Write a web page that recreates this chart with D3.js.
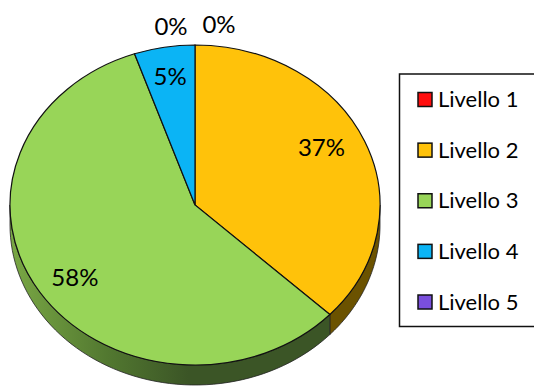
<!DOCTYPE html>
<html>
<head>
<meta charset="utf-8">
<script src="https://cdn.jsdelivr.net/npm/d3@7"></script>
<style>
html, body { margin: 0; padding: 0; background: #fff; }
svg { display: block; }
text { font-family: Lato, "Open Sans", sans-serif; fill: #000; }
</style>
</head>
<body>
<div id="viz"></div>
<script>
var categories = ['Livello 1', 'Livello 2', 'Livello 3', 'Livello 4', 'Livello 5'];
var values = [0, 37, 57.7, 5.3, 0];
var colors = ['#ff0d0d', '#ffc20a', '#98d558', '#0bb4f5', '#7a4fdc'];
var sideColors = ['#800000', '#6b5200', 'url(#greenSide)', '#0a5a7a', '#3d2870'];

var width = 534, height = 387;
var cx = 195, cy = 205, rx = 185, ry = 160, depth = 20;

var svg = d3.select('#viz').append('svg')
    .attr('width', width).attr('height', height);

var grad = svg.append('defs').append('linearGradient')
    .attr('id', 'greenSide')
    .attr('gradientUnits', 'userSpaceOnUse')
    .attr('x1', cx - rx).attr('x2', cx + rx * 0.75)
    .attr('y1', 0).attr('y2', 0);
grad.append('stop').attr('offset', 0).attr('stop-color', '#7aa845');
grad.append('stop').attr('offset', 0.3).attr('stop-color', '#527830');
grad.append('stop').attr('offset', 0.55).attr('stop-color', '#3b5526');
grad.append('stop').attr('offset', 1).attr('stop-color', '#3b5526');

var pie = d3.pie().sort(null)(values);

function px(a) { return cx + rx * Math.sin(a); }
function py(a) { return cy - ry * Math.cos(a); }

// side wall, only the part of a slice on the front half of the ellipse
var wall = d3.line();
var walls = svg.append('g');
pie.forEach(function(d, i) {
    var a0 = Math.max(d.startAngle, Math.PI / 2);
    var a1 = Math.min(d.endAngle, Math.PI * 3 / 2);
    if (a1 <= a0) return;
    var steps = d3.range(0, 61).map(function(k) { return a0 + (a1 - a0) * k / 60; });
    var top = steps.map(function(a) { return [px(a), py(a)]; });
    var bottom = steps.slice().reverse().map(function(a) { return [px(a), py(a) + depth]; });
    walls.append('path')
        .attr('d', wall(top.concat(bottom)) + 'Z')
        .attr('fill', sideColors[i])
        .attr('stroke', '#222')
        .attr('stroke-width', 0.8);
});

var arc = d3.arc().innerRadius(0).outerRadius(rx);
svg.append('g')
    .attr('transform', 'translate(' + cx + ',' + cy + ') scale(1,' + (ry / rx) + ')')
    .selectAll('path')
    .data(pie.filter(function(d) { return d.value > 0; }))
    .join('path')
    .attr('d', arc)
    .attr('fill', function(d) { return colors[d.index]; })
    .attr('stroke', '#111')
    .attr('stroke-width', 1.2)
    .attr('vector-effect', 'non-scaling-stroke');

// labels: inside for real slices, above the pie for the empty ones
var labelNudge = [[24, 7], [-6, -7], [1, 5], [-1, -5], [-24, 9]];
svg.append('g').selectAll('text')
    .data(pie)
    .join('text')
    .attr('x', function(d, i) {
        var mid = (d.startAngle + d.endAngle) / 2;
        var r = d.value > 0 ? 0.78 : 1.0;
        return cx + rx * r * Math.sin(mid) + labelNudge[i][0];
    })
    .attr('y', function(d, i) {
        var mid = (d.startAngle + d.endAngle) / 2;
        var r = d.value > 0 ? 0.78 : 1.0;
        var off = d.value > 0 ? 0 : -27;
        return cy - ry * r * Math.cos(mid) + off + labelNudge[i][1] + 8;
    })
    .attr('text-anchor', 'middle')
    .style('font-size', '24px')
    .text(function(d) { return Math.round(d.value) + '%'; });

// legend, box runs off the right edge of the picture
var y = d3.scalePoint().domain(categories).range([99.5, 302]);
svg.append('rect')
    .attr('x', 399.5).attr('y', 74)
    .attr('width', 160).attr('height', 252.5)
    .attr('fill', '#fff').attr('stroke', '#111').attr('stroke-width', 1.5);

var legend = svg.append('g').selectAll('g')
    .data(categories)
    .join('g')
    .attr('transform', function(d) { return 'translate(0,' + y(d) + ')'; });
legend.append('rect')
    .attr('x', 418).attr('y', -7)
    .attr('width', 14).attr('height', 14)
    .attr('fill', function(d, i) { return colors[i]; })
    .attr('stroke', '#111').attr('stroke-width', 1.5);
legend.append('text')
    .attr('x', 438).attr('y', 7.5)
    .style('font-size', '22px')
    .text(function(d) { return d; });
</script>
</body>
</html>
